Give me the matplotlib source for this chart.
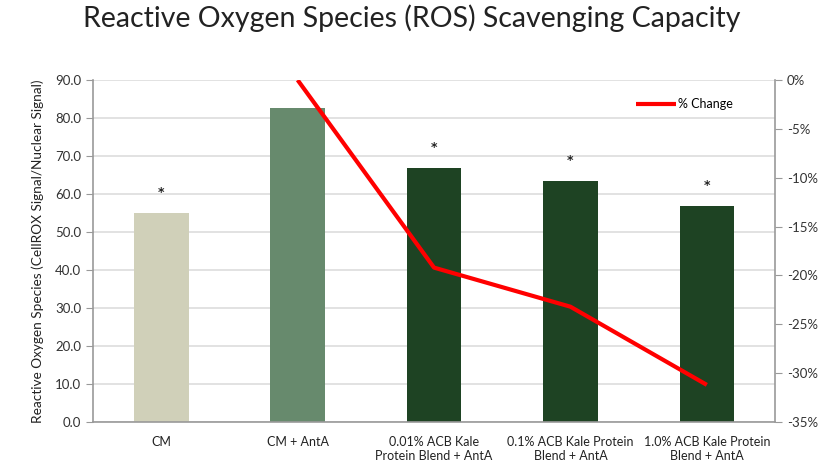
import numpy as np
import matplotlib.pyplot as plt
from matplotlib.ticker import FuncFormatter

# data
categories = ['CM', 'CM + AntA', '0.01% ACB Kale\nProtein Blend + AntA',
              '0.1% ACB Kale Protein\nBlend + AntA', '1.0% ACB Kale Protein\nBlend + AntA']
ros_values = [55.0, 82.6, 66.8, 63.4, 56.8]
bar_colors = ['#d0d0b9', '#678a6d', '#1e4323', '#1e4323', '#1e4323']
significant = [True, False, True, True, True]
pct_change = [0.0, -19.2, -23.2, -31.2]   # relative to CM + AntA
pct_idx = [1, 2, 3, 4]

plt.rcParams['font.family'] = ['Lato', 'DejaVu Sans']

fig = plt.figure(figsize=(8.19, 4.68), dpi=100)
ax = fig.add_axes([0.1136, 0.0983, 0.8327, 0.7307])

x = np.arange(len(categories))
ax.bar(x, ros_values, width=0.4, color=bar_colors, zorder=2)
for i, v in enumerate(ros_values):
    if significant[i]:
        ax.text(i, v + 5.5, '*', ha='center', va='center', fontsize=9,
                family='DejaVu Sans', fontweight='bold', color='#222222')

ax.set_xlim(-0.5, len(categories) - 0.5)
ax.set_ylim(0, 90)
ax.set_yticks(np.arange(0, 91, 10))
ax.yaxis.set_major_formatter(FuncFormatter(lambda v, p: f'{v:.1f}'))
ax.set_xticks(x)
ax.set_xticklabels(categories, fontsize=9, color='#222222')
ax.tick_params(axis='x', length=0, pad=10)
ax.tick_params(axis='y', labelsize=9.5, colors='#333333', length=5, color='#999999', direction='out')
ax.grid(axis='y', color='#dddddd', linewidth=1.2, zorder=0)
ax.set_axisbelow(True)
for s in ['top', 'right']:
    ax.spines[s].set_visible(False)
for s in ['left', 'bottom']:
    ax.spines[s].set_color('#999999')
    ax.spines[s].set_linewidth(1.2)
ax.set_ylabel('Reactive Oxygen Species (CellROX Signal/Nuclear Signal)', fontsize=9.8,
              color='#222222', labelpad=8)

ax2 = ax.twinx()
ax2.plot(pct_idx, pct_change, color='#ff0000', linewidth=3, label='% Change',
         solid_capstyle='butt', zorder=3)
ax2.set_ylim(-35, 0)
ax2.set_yticks(np.arange(-35, 1, 5))
ax2.yaxis.set_major_formatter(FuncFormatter(lambda v, p: f'{int(round(v))}%'))
ax2.tick_params(axis='y', labelsize=9.5, colors='#333333', length=5, color='#999999', direction='out')
for s in ['top', 'left', 'bottom']:
    ax2.spines[s].set_visible(False)
ax2.spines['right'].set_color('#999999')
ax2.spines['right'].set_linewidth(1.2)
ax2.legend(loc='upper right', bbox_to_anchor=(0.955, 0.98), frameon=False, fontsize=9,
           handlelength=3.2, handletextpad=0.2)

fig.suptitle('Reactive Oxygen Species (ROS) Scavenging Capacity', fontsize=20.5,
             x=0.503, y=0.99, color='#222222')

fig.savefig('out.png', dpi=100)
